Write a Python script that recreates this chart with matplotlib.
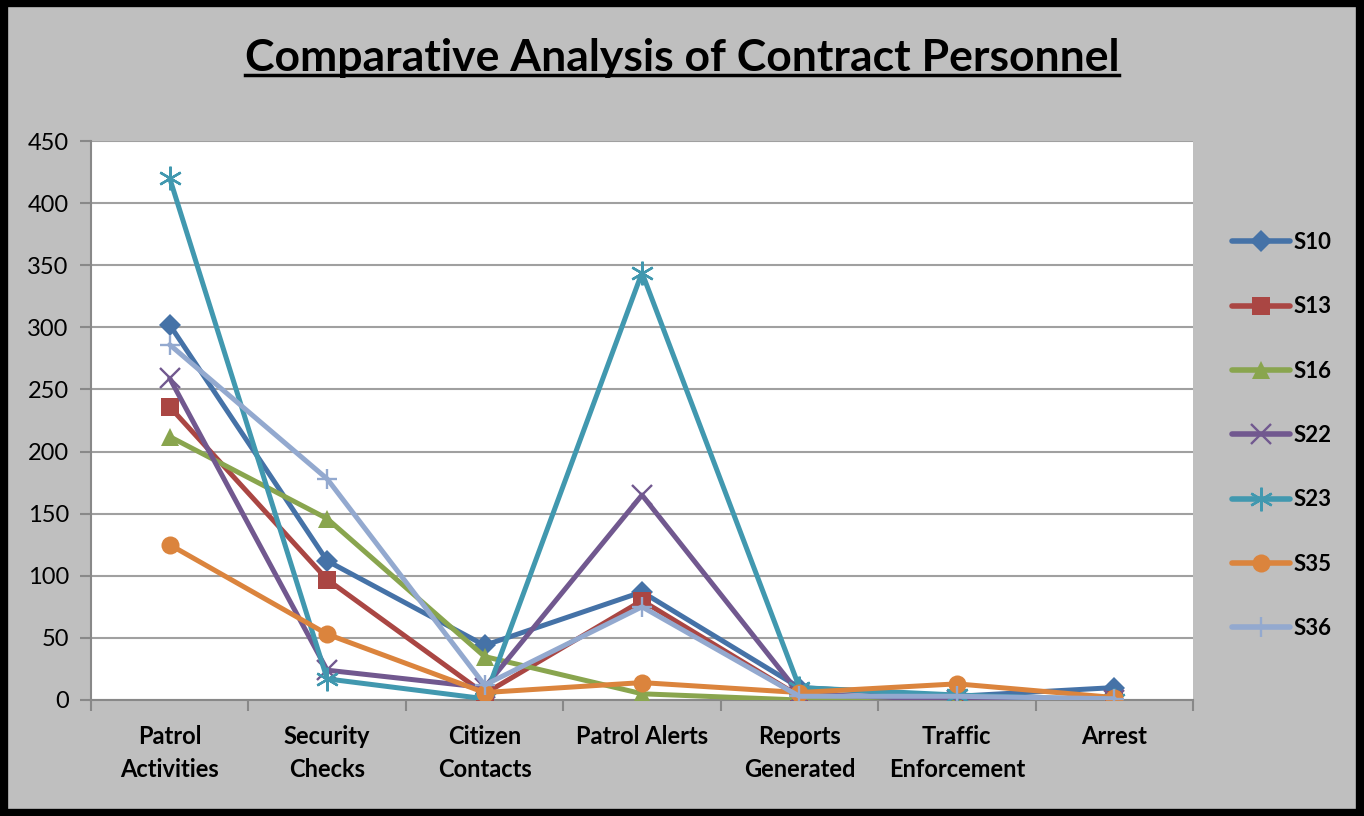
import matplotlib
matplotlib.use('Agg')
import matplotlib.pyplot as plt
from matplotlib.lines import Line2D
from matplotlib.patches import Rectangle

categories = ['Patrol\nActivities', 'Security\nChecks', 'Citizen\nContacts', 'Patrol Alerts',
              'Reports\nGenerated', 'Traffic\nEnforcement', 'Arrest']

s10 = [302, 112, 44, 87, 10, 3, 10]
s13 = [236, 97, 5, 80, 3, 2, 0]
s16 = [212, 146, 35, 5, 0, 0, 0]
s22 = [259, 24, 10, 165, 5, 0, 0]
s23 = [420, 17, 1, 344, 10, 4, 0]
s35 = [125, 53, 6, 14, 6, 13, 2]
s36 = [286, 178, 12, 75, 3, 3, 1]

series_names = ['S10', 'S13', 'S16', 'S22', 'S23', 'S35', 'S36']
series_values = [s10, s13, s16, s22, s23, s35, s36]
colors = ['#4572A7', '#AA4643', '#89A54E', '#71588F', '#4198AF', '#DB843D', '#93A9CF']
markers = ['D', 's', '^', 'x', '*', 'o', '+']

plt.rcParams['font.family'] = ['Lato', 'DejaVu Sans']


def marker_style(m):
    # returns marker, size, edge width
    if m == '*':
        return (6, 2, 0), 17, 1.7
    if m in ('x', '+'):
        return m, 15, 1.7
    if m == 'D':
        return m, 11, 0
    return m, 13, 0


fig = plt.figure(figsize=(13.64, 8.16), dpi=100)
fig.patch.set_facecolor('#BFBFBF')

# Plot area in pixels: left 91, right 1193, top 141, bottom 700
W, H = 1364, 816
ax = fig.add_axes([91 / W, (H - 700) / H, (1193 - 91) / W, (700 - 141) / H])
ax.set_facecolor('white')

x = list(range(1, len(categories) + 1))
for name, vals, c, m in zip(series_names, series_values, colors, markers):
    mk, ms, mew = marker_style(m)
    ax.plot(x, vals, color=c, linewidth=3.6, marker=mk, markersize=ms,
            markeredgewidth=mew, markeredgecolor=c, label=name, zorder=3,
            solid_capstyle='round', solid_joinstyle='round')

ax.set_xlim(0.5, len(categories) + 0.5)
ax.set_ylim(0, 450)
ax.set_yticks(range(0, 451, 50))
ax.yaxis.grid(True, color='#A0A0A0', linewidth=1.5)
ax.set_axisbelow(True)

ax.set_xticks(x)
ax.set_xticklabels(categories, fontsize=17, fontweight='bold', linespacing=1.55)
ax.tick_params(axis='x', length=0, pad=18)
ax.set_xticks([i + 0.5 for i in range(0, len(categories) + 1)], minor=True)
ax.tick_params(axis='x', which='minor', length=8, width=1.5, color='#888888', direction='out')
ax.tick_params(axis='y', labelsize=17, length=8, width=1.5, color='#888888', direction='out', pad=8)

for side in ['top', 'right']:
    ax.spines[side].set_visible(False)
for side in ['left', 'bottom']:
    ax.spines[side].set_color('#888888')
    ax.spines[side].set_linewidth(1.5)

handles = []
for c, m in zip(colors, markers):
    mk, ms, mew = marker_style(m)
    handles.append(Line2D([0], [0], color=c, linewidth=4, marker=mk, markersize=ms,
                          markeredgewidth=mew, markeredgecolor=c, solid_capstyle='round'))
leg = fig.legend(handles, series_names, loc='upper left', bbox_to_anchor=(1212 / W, 1 - 212 / H),
                 frameon=False, prop={'weight': 'bold', 'size': 16}, labelspacing=1.95,
                 handlelength=2.6, handletextpad=0.15)

# title with underline
title = fig.text(0.5, 1 - 58 / H, 'Comparative Analysis of Contract Personnel', ha='center',
                 va='center', fontsize=32, fontweight='bold')
fig.canvas.draw()
bb = title.get_window_extent().transformed(fig.transFigure.inverted())
fig.add_artist(Line2D([bb.x0, bb.x1], [bb.y0 + 0.004, bb.y0 + 0.004], color='black',
                      linewidth=2.5, transform=fig.transFigure))

# outer black border
fig.add_artist(Rectangle((0.003, 0.004), 0.994, 0.992, transform=fig.transFigure,
                         fill=False, edgecolor='black', linewidth=6))

fig.savefig('out.png', dpi=100, facecolor=fig.get_facecolor())
